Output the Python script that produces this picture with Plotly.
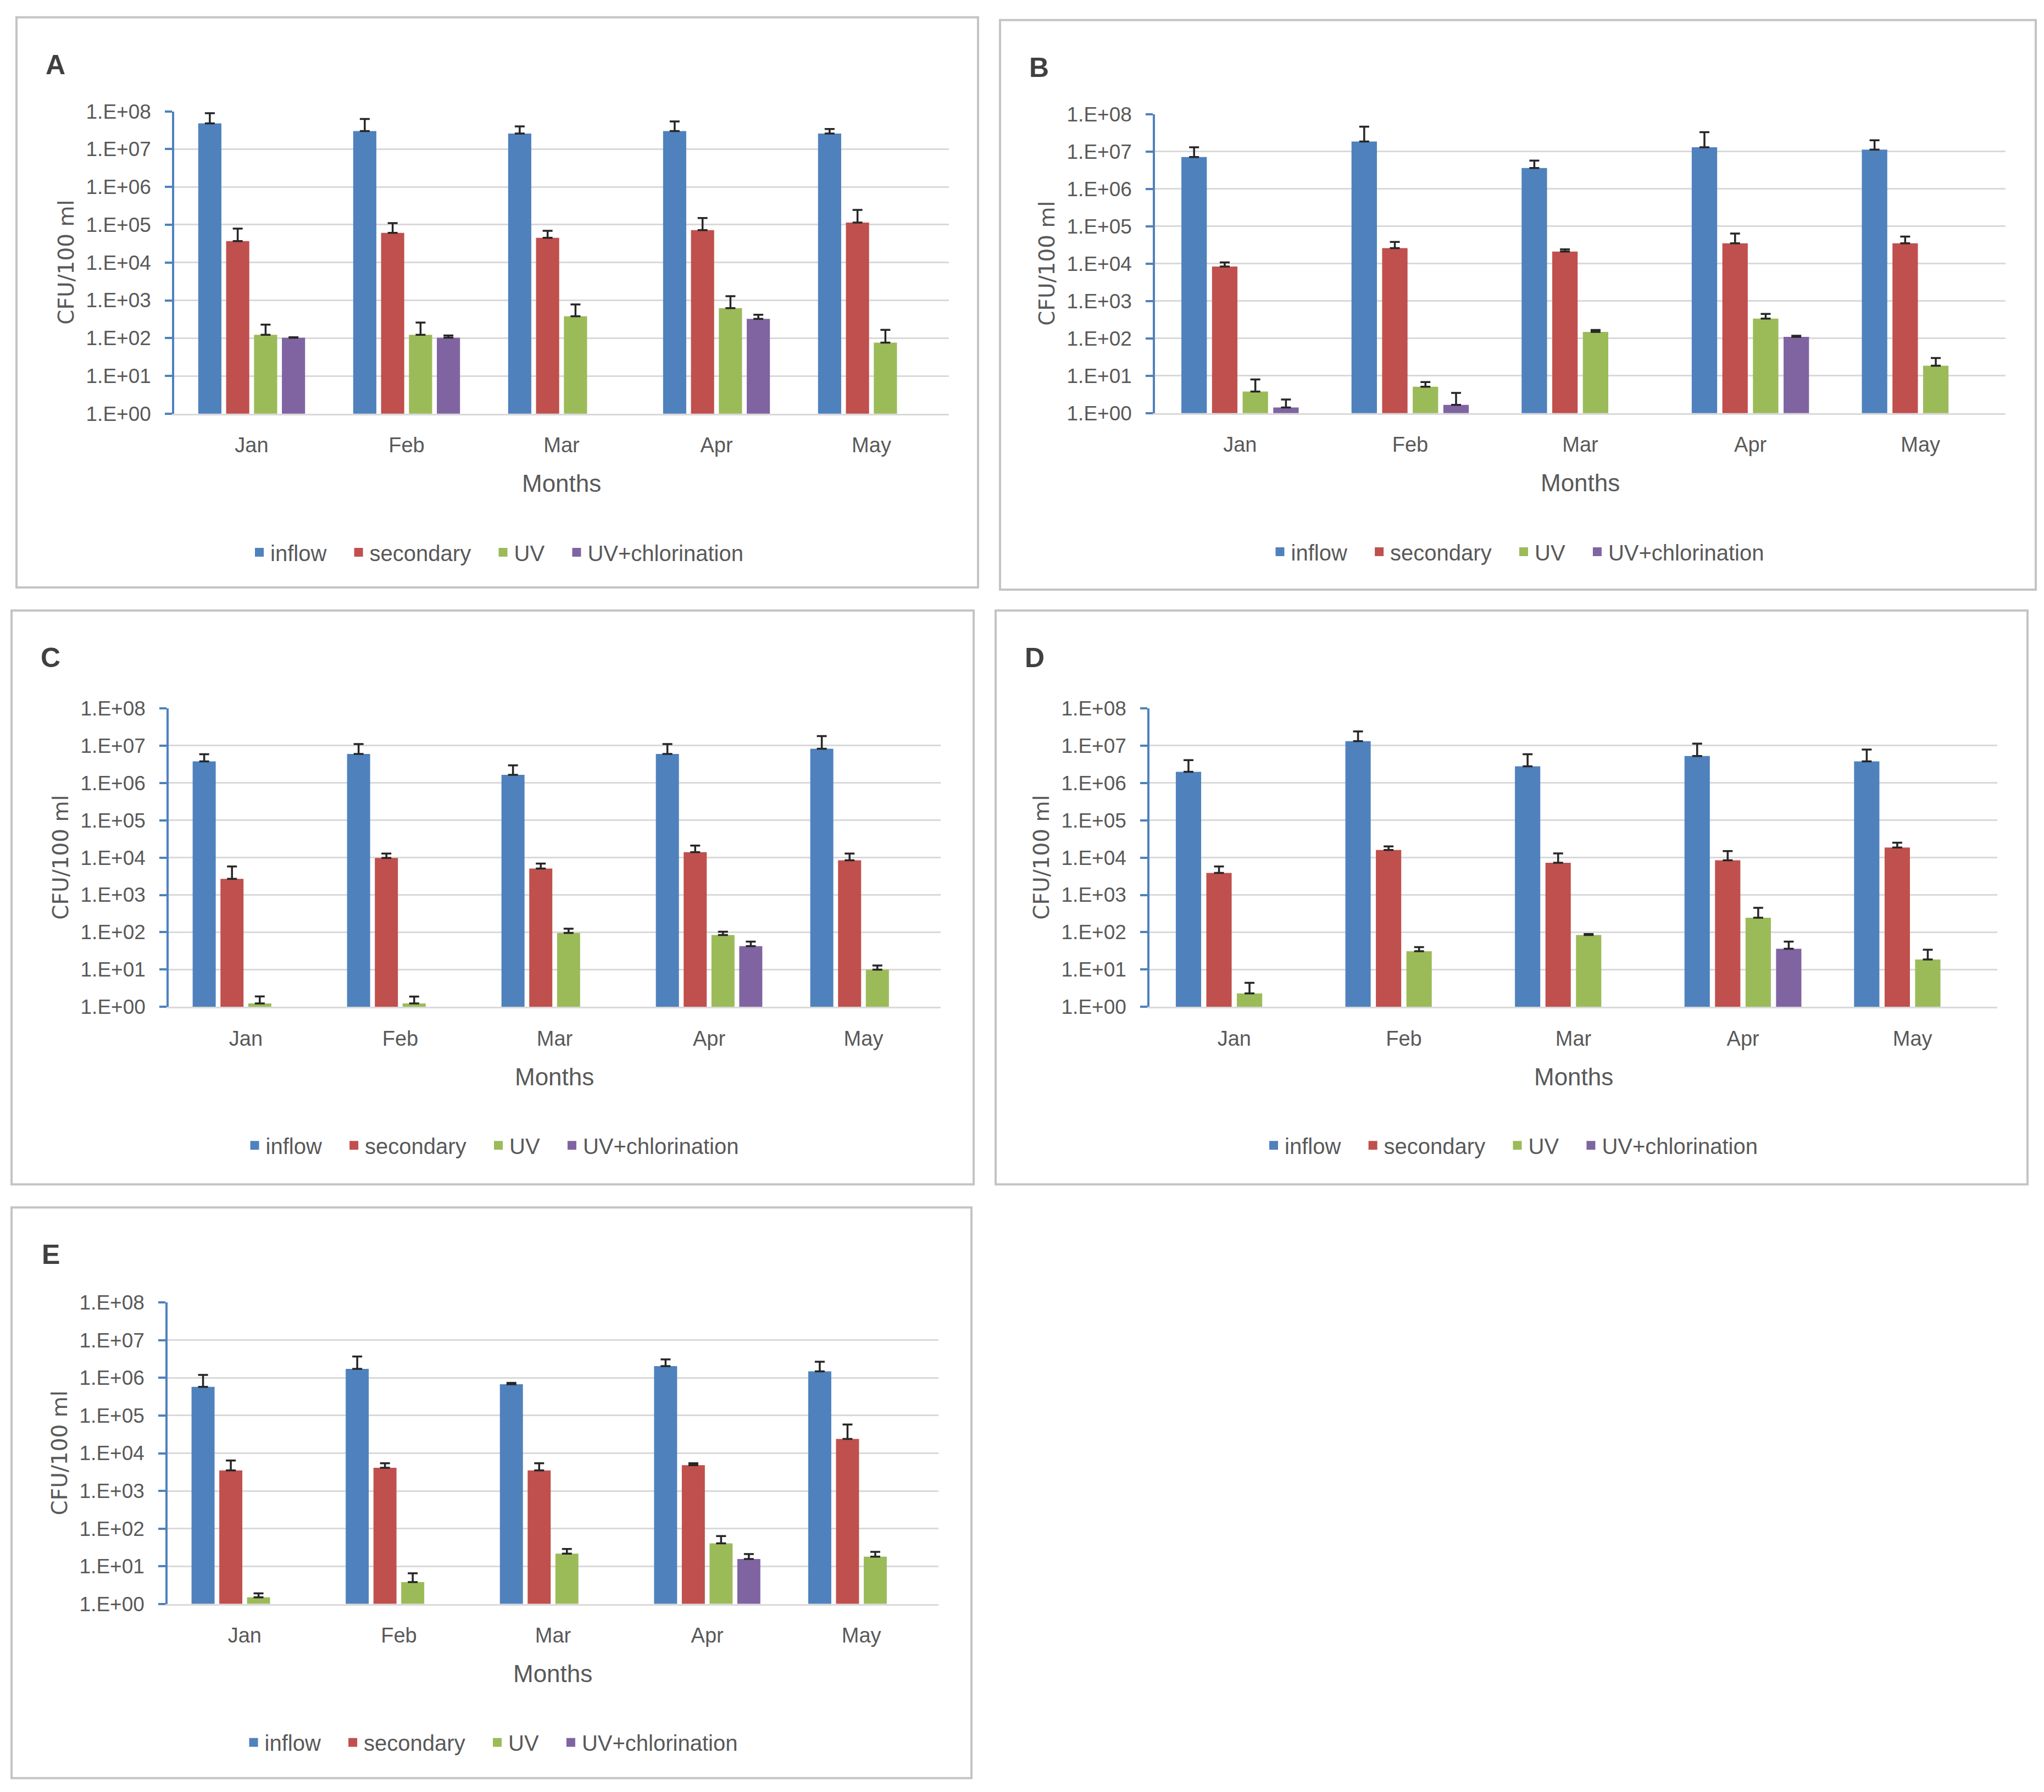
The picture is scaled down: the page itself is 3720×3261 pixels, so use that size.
import plotly.graph_objects as go

months = ["Jan", "Feb", "Mar", "Apr", "May"]
series_names = ["inflow", "secondary", "UV", "UV+chlorination"]
series_colors = ["#4F81BD", "#C0504D", "#9BBB59", "#8064A2"]
tick_vals = [1, 1e1, 1e2, 1e3, 1e4, 1e5, 1e6, 1e7, 1e8]
tick_text = ["1.E+00", "1.E+01", "1.E+02", "1.E+03", "1.E+04",
             "1.E+05", "1.E+06", "1.E+07", "1.E+08"]

# panel A
a_inflow = [4.8e7, 3.0e7, 2.6e7, 3.0e7, 2.6e7]
a_inflow_err = [4.1e7, 3.3e7, 1.4e7, 2.4e7, 0.8e7]
a_secondary = [3.7e4, 6.1e4, 4.5e4, 7.2e4, 1.14e5]
a_secondary_err = [4.2e4, 4.9e4, 2.4e4, 7.8e4, 1.32e5]
a_uv = [122, 122, 380, 620, 76]
a_uv_err = [106, 135, 400, 670, 89]
a_uvcl = [103, 103, None, 323, None]
a_uvcl_err = [2, 14, 0, 94, 0]

# panel B
b_inflow = [7.1e6, 1.85e7, 3.6e6, 1.3e7, 1.12e7]
b_inflow_err = [5.9e6, 2.75e7, 2.1e6, 2.0e7, 8.8e6]
b_secondary = [8.4e3, 2.6e4, 2.1e4, 3.5e4, 3.5e4]
b_secondary_err = [2.4e3, 1.2e4, 3e3, 2.9e4, 1.8e4]
b_uv = [3.8, 5.1, 149, 340, 18.6]
b_uv_err = [4.2, 1.7, 19, 110, 11.2]
b_uvcl = [1.42, 1.67, None, 110, None]
b_uvcl_err = [0.9, 1.8, 0, 8, 0]

# panel C
c_inflow = [3.8e6, 6.0e6, 1.66e6, 6.0e6, 8.3e6]
c_inflow_err = [2.1e6, 5e6, 1.3e6, 5e6, 9.7e6]
c_secondary = [2.7e3, 9.8e3, 5.1e3, 1.4e4, 8.5e3]
c_secondary_err = [3.1e3, 3.0e3, 1.8e3, 7e3, 4.3e3]
c_uv = [1.23, 1.23, 96, 84, 9.9]
c_uv_err = [0.67, 0.65, 28, 19, 2.9]
c_uvcl = [None, None, None, 42.5, None]
c_uvcl_err = [0, 0, 0, 13.5, 0]

# panel D
d_inflow = [2.0e6, 1.32e7, 2.8e6, 5.3e6, 3.8e6]
d_inflow_err = [2.1e6, 1.08e7, 3.1e6, 6.0e6, 4.1e6]
d_secondary = [3.9e3, 1.6e4, 7.3e3, 8.5e3, 1.86e4]
d_secondary_err = [1.9e3, 4e3, 5.7e3, 6.5e3, 6.4e3]
d_uv = [2.3, 31, 84, 245, 18.6]
d_uv_err = [2.1, 9, 5, 205, 15.4]
d_uvcl = [None, None, None, 36, None]
d_uvcl_err = [0, 0, 0, 20, 0]

# panel E
e_inflow = [5.8e5, 1.74e6, 6.8e5, 2.05e6, 1.5e6]
e_inflow_err = [6.2e5, 1.96e6, 6e4, 1.05e6, 1.2e6]
e_secondary = [3.5e3, 4.1e3, 3.5e3, 4.8e3, 2.4e4]
e_secondary_err = [2.9e3, 1.3e3, 1.9e3, 6e2, 3.4e4]
e_uv = [1.49, 3.8, 21.6, 40.5, 17.9]
e_uv_err = [0.41, 2.7, 7, 22.5, 6.1]
e_uvcl = [None, None, None, 15.5, None]
e_uvcl_err = [0, 0, 0, 5.5, 0]

# the page puts the figure a little off the window corner and squeezes
# it slightly in height, so window pixels are mapped onto the figure
W, H = 3704, 3261
OX, OY, SY = 8, 28.8, 1.0131
FONT = "Liberation Sans, Arial, sans-serif"
GREY = "#595959"

# label, box (x0, y0, x1, y1) and plot area (x0, y0, x1, y1) in pixels
panels = [
    ("A", (30, 32, 1780, 1069), (317, 203, 1727, 753),
     [(a_inflow, a_inflow_err), (a_secondary, a_secondary_err),
      (a_uv, a_uv_err), (a_uvcl, a_uvcl_err)]),
    ("B", (1820, 37, 3705, 1073), (2102, 208, 3650, 752),
     [(b_inflow, b_inflow_err), (b_secondary, b_secondary_err),
      (b_uv, b_uv_err), (b_uvcl, b_uvcl_err)]),
    ("C", (21, 1111, 1772, 2155), (307, 1289, 1712, 1832),
     [(c_inflow, c_inflow_err), (c_secondary, c_secondary_err),
      (c_uv, c_uv_err), (c_uvcl, c_uvcl_err)]),
    ("D", (1812, 1111, 3690, 2155), (2092, 1289, 3635, 1832),
     [(d_inflow, d_inflow_err), (d_secondary, d_secondary_err),
      (d_uv, d_uv_err), (d_uvcl, d_uvcl_err)]),
    ("E", (21, 2197, 1768, 3235), (305, 2370, 1708, 2918),
     [(e_inflow, e_inflow_err), (e_secondary, e_secondary_err),
      (e_uv, e_uv_err), (e_uvcl, e_uvcl_err)]),
]


def px(x):
    return (x - OX) / W


def py(y):
    return 1 - (SY * y - OY) / H


fig = go.Figure()
layout = dict(
    width=W, height=H, margin=dict(l=0, r=0, t=0, b=0),
    paper_bgcolor="white", plot_bgcolor="white",
    barmode="group", bargap=0.28, bargroupgap=0.17,
    font=dict(family=FONT, color=GREY, size=36),
    shapes=[], annotations=[],
)

for i, (label, box, area, data) in enumerate(panels):
    n = "" if i == 0 else str(i + 1)
    xa, ya = "x" + n, "y" + n
    leg = "legend" + n
    for (vals, errs), name, color in zip(data, series_names, series_colors):
        fig.add_trace(go.Bar(
            x=months, y=vals, name=name, marker_color=color,
            marker_line_width=0, xaxis=xa, yaxis=ya, showlegend=False,
            error_y=dict(type="data", symmetric=False, array=errs,
                         arrayminus=[0] * len(errs), color="#262626",
                         thickness=3.5, width=9),
        ))
    # legend entries (square markers read better than the tiny bar swatch)
    for j, (name, color) in enumerate(zip(series_names, series_colors)):
        pad = "\u00a0\u00a0\u00a0" if j < 3 else ""
        fig.add_trace(go.Scatter(
            x=[months[0]], y=[None], mode="markers", name=name + pad,
            marker=dict(symbol="square", size=16, color=color),
            xaxis=xa, yaxis=ya, legend=leg, hoverinfo="skip",
        ))
    bx0, by0, bx1, by1 = box
    x0, y0, x1, y1 = area
    layout["xaxis" + n] = dict(
        domain=[px(x0), px(x1)], anchor=ya, type="category",
        showline=True, linecolor="#D9D9D9", linewidth=3,
        showgrid=False, ticks="", ticklabelstandoff=22,
        tickfont=dict(size=38, color=GREY),
    )
    layout["yaxis" + n] = dict(
        domain=[py(y1), py(y0)], anchor=xa, type="log", range=[0, 8],
        tickvals=tick_vals, ticktext=tick_text,
        showline=True, linecolor="#4F81BD", linewidth=3.5,
        ticks="outside", ticklen=13, tickwidth=3.5, tickcolor="#4F81BD",
        showgrid=True, gridcolor="#D9D9D9", gridwidth=3,
        ticklabelstandoff=18, tickfont=dict(size=37, color=GREY),
        zeroline=False,
    )
    layout[leg] = dict(
        orientation="h", x=px((bx0 + bx1) / 2), y=py(y1 + 252),
        xanchor="center", yanchor="middle", bgcolor="rgba(0,0,0,0)",
        font=dict(size=40, color=GREY), itemwidth=30, traceorder="normal",
    )
    layout["shapes"].append(dict(
        type="rect", xref="paper", yref="paper",
        x0=px(bx0), x1=px(bx1), y0=py(by1), y1=py(by0),
        line=dict(color="#C4C4C4", width=4), layer="below",
    ))
    layout["annotations"] += [
        dict(text="<b>" + label + "</b>", xref="paper", yref="paper",
             x=px(bx0 + 71), y=py(by0 + 86), showarrow=False,
             xanchor="center", yanchor="middle",
             font=dict(size=50, color="#404040")),
        dict(text="Months", xref="paper", yref="paper",
             x=px((x0 + x1) / 2), y=py(y1 + 127), showarrow=False,
             xanchor="center", yanchor="middle",
             font=dict(size=44, color=GREY)),
        dict(text="CFU/100 ml", xref="paper", yref="paper",
             x=px(x0 - 196), y=py((y0 + y1) / 2), showarrow=False,
             xanchor="center", yanchor="middle", textangle=-90,
             font=dict(family="DejaVu Sans", size=39, color=GREY)),
    ]

fig.update_layout(**layout)
fig.write_html("out.html")
